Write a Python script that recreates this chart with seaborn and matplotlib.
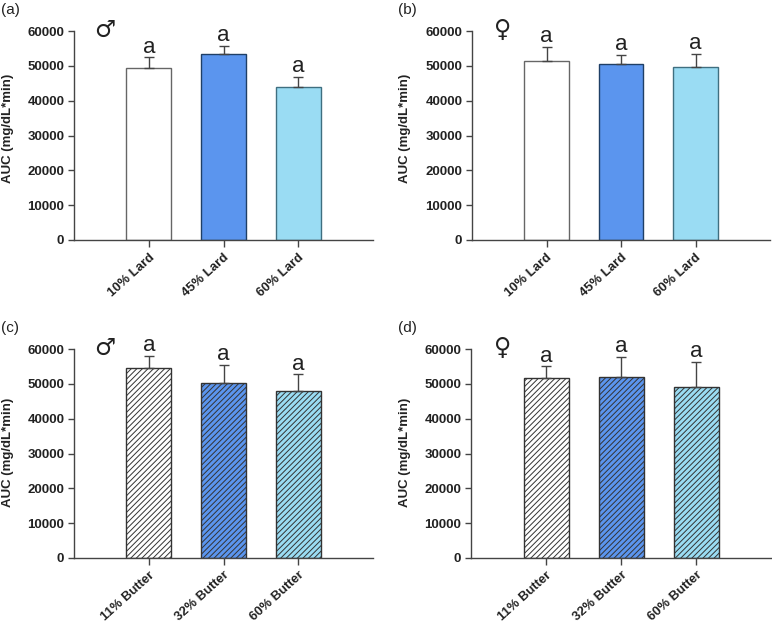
import matplotlib
matplotlib.use('Agg')
import matplotlib.pyplot as plt
import seaborn as sns
import pandas as pd

sns.set_style('ticks')
plt.rcParams['font.family'] = ['Liberation Sans', 'DejaVu Sans']
plt.rcParams['hatch.linewidth'] = 0.7

# colours of the three diets
colors = ['#ffffff', '#5b95ee', '#9adcf3']
edge_colors = ['#666666', '#1f3f66', '#3f6f80']

lard_labels = ['10% Lard', '45% Lard', '60% Lard']
butter_labels = ['11% Butter', '32% Butter', '60% Butter']

a_means = [49400, 53300, 43800]
a_err = [3000, 2500, 3100]
b_means = [51500, 50400, 49800]
b_err = [3800, 2700, 3700]
c_means = [54500, 50200, 47900]
c_err = [3500, 5200, 4800]
d_means = [51800, 52000, 49200]
d_err = [3200, 5700, 7000]

# panel: letter, symbol, labels, means, errors, hatched, axes rect in pixels, symbol x, letter x, ylabel x, ylabel y
panels = [
    ('(a)', '\u2642', lard_labels, a_means, a_err, False, (74, 31, 373, 240), 105, 1, 8, 128),
    ('(b)', '\u2640', lard_labels, b_means, b_err, False, (472, 31, 770, 240), 503, 398, 405, 128),
    ('(c)', '\u2642', butter_labels, c_means, c_err, True, (74, 349, 373, 558), 105, 1, 8, 452),
    ('(d)', '\u2640', butter_labels, d_means, d_err, True, (471, 349, 771, 558), 503, 398, 405, 452),
]

W, H = 772, 624
fig = plt.figure(figsize=(W / 100, H / 100), dpi=100)

for letter, symbol, labels, means, errs, hatched, rect, sym_x, let_x, lab_x, lab_y in panels:
    left, top, right, bottom = rect
    ax = fig.add_axes([left / W, 1 - bottom / H, (right - left) / W, (bottom - top) / H])
    df = pd.DataFrame({'diet': labels, 'auc': means})
    sns.barplot(data=df, x='diet', y='auc', hue='diet', palette=colors, legend=False,
                width=0.6, saturation=1, ax=ax)
    for i, bar in enumerate(ax.patches):
        bar.set_edgecolor(edge_colors[i] if not hatched else '#333333')
        bar.set_linewidth(1.0)
        if hatched:
            bar.set_hatch('//////')
    ax.errorbar(range(3), means, yerr=[[0, 0, 0], errs], fmt='none', ecolor='#444444',
                elinewidth=1, capsize=3.5, capthick=1)
    for i in range(3):
        ax.text(i, means[i] + errs[i] + 1400, 'a', ha='center', va='baseline', fontsize=16, color='#222222')
    ax.set_xlim(-1, 3)
    ax.set_ylim(0, 60000)
    ax.set_yticks(range(0, 60001, 10000))
    ax.set_xlabel('')
    ax.set_ylabel('')
    ax.set_xticks(range(3))
    ax.set_xticklabels(labels, rotation=42, ha='right', rotation_mode='anchor',
                       fontsize=9.4, fontweight='bold', color='#222222')
    ax.tick_params(axis='y', labelsize=9.5, length=4, width=1, color='#444444', labelcolor='#222222', pad=3)
    ax.tick_params(axis='x', length=5, width=1, color='#444444', pad=3)
    for label in ax.get_yticklabels():
        label.set_fontweight('bold')
    sns.despine(ax=ax)
    for s in ['left', 'bottom']:
        ax.spines[s].set_color('#444444')
        ax.spines[s].set_linewidth(1)
    fig.text(lab_x / W, 1 - lab_y / H, 'AUC (mg/dL*min)', rotation=90, ha='center', va='center',
             fontsize=9.5, fontweight='bold', color='#222222')
    fig.text(sym_x / W, 1 - (top - 1) / H, symbol, fontsize=17, ha='center', va='center', color='#222222',
             family=['DejaVu Sans'])
    fig.text(let_x / W, 1 - (top - 21) / H, letter, fontsize=11, ha='left', va='center', color='#222222')

fig.savefig('out.png', dpi=100)
